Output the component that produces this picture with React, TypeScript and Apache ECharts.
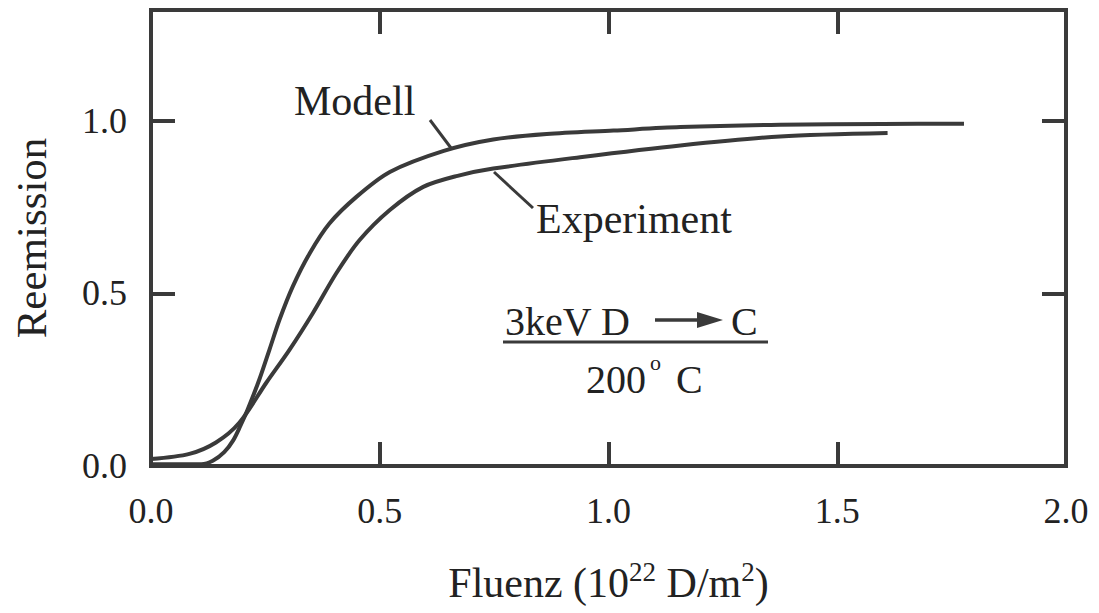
import React, { useEffect, useRef } from 'react';
import * as echarts from 'echarts';

// Axis ticks
const xTickValues = [0, 0.5, 1.0, 1.5, 2.0];
const yTickValues = [0, 0.5, 1.0];

// Modell curve (fluence in 1e22 D/m^2, reemission)
const modellX = [0, 0.11, 0.135, 0.16, 0.18, 0.195, 0.2115, 0.237, 0.259, 0.281, 0.31, 0.347, 0.39, 0.449, 0.522, 0.64, 0.748, 0.865, 1.011, 1.157, 1.375, 1.6, 1.777];
const modellY = [0.005, 0.005, 0.015, 0.04, 0.075, 0.115, 0.164, 0.251, 0.337, 0.424, 0.52, 0.616, 0.702, 0.779, 0.851, 0.912, 0.945, 0.961, 0.971, 0.981, 0.988, 0.99, 0.991];

// Experiment curve
const experimentX = [0, 0.084, 0.142, 0.193, 0.252, 0.303, 0.354, 0.405, 0.456, 0.522, 0.595, 0.67, 0.748, 0.938, 1.157, 1.375, 1.61];
const experimentY = [0.02, 0.035, 0.068, 0.125, 0.241, 0.337, 0.443, 0.558, 0.654, 0.741, 0.808, 0.84, 0.861, 0.894, 0.928, 0.954, 0.964];

const FONT = '"Liberation Serif", "Times New Roman", Times, serif';
const INK = '#3a3a3a';
const TEXT = '#222222';

export default function App() {
  const ref = useRef<HTMLDivElement>(null);

  useEffect(() => {
    if (!ref.current) return;
    const chart = echarts.init(ref.current, null, { renderer: 'svg' });
    const fmt = (v: number) => (xTickValues.some((t) => Math.abs(t - v) < 1e-9) ? v.toFixed(1) : '');
    const fmtY = (v: number) => (yTickValues.some((t) => Math.abs(t - v) < 1e-9) ? v.toFixed(1) : '');
    const tick = { show: true, inside: true, length: 24, lineStyle: { color: INK, width: 4 } };
    const hiddenLine = { show: false, onZero: false };
    const txt = (text: string, left: number, top: number, size: number) => ({
      type: 'text',
      left,
      top,
      style: { text, fontSize: size, fontFamily: FONT, fill: TEXT },
    });

    chart.setOption({
      animation: false,
      backgroundColor: '#ffffff',
      grid: {
        left: 151,
        right: 33,
        top: 10,
        bottom: 146,
        show: true,
        borderColor: INK,
        borderWidth: 4,
        backgroundColor: 'transparent',
      },
      xAxis: [
        {
          type: 'value',
          position: 'bottom',
          min: 0,
          max: 2,
          interval: 0.5,
          axisLine: hiddenLine,
          axisTick: tick,
          splitLine: { show: false },
          axisLabel: { fontSize: 36, fontFamily: FONT, color: TEXT, margin: 27, formatter: fmt },
          name: 'Fluenz (10{sup|22} D/m{sup|2})',
          nameLocation: 'middle',
          nameGap: 92,
          nameTextStyle: {
            fontSize: 42,
            fontFamily: FONT,
            color: TEXT,
            lineHeight: 50,
            rich: {
              sup: { fontSize: 27, fontFamily: FONT, color: TEXT, lineHeight: 27, verticalAlign: 'top' },
            },
          },
        },
        {
          type: 'value',
          position: 'top',
          min: 0,
          max: 2,
          interval: 0.5,
          axisLine: hiddenLine,
          axisTick: tick,
          splitLine: { show: false },
          axisLabel: { show: false },
        },
      ],
      yAxis: [
        {
          type: 'value',
          position: 'left',
          min: 0,
          max: 1.32,
          interval: 0.5,
          axisLine: hiddenLine,
          axisTick: tick,
          splitLine: { show: false },
          axisLabel: { fontSize: 36, fontFamily: FONT, color: TEXT, margin: 24, formatter: fmtY },
          name: 'Reemission',
          nameLocation: 'middle',
          nameGap: 98,
          nameRotate: 90,
          nameTextStyle: { fontSize: 43, fontFamily: FONT, color: TEXT },
        },
        {
          type: 'value',
          position: 'right',
          min: 0,
          max: 1.32,
          interval: 0.5,
          axisLine: hiddenLine,
          axisTick: tick,
          splitLine: { show: false },
          axisLabel: { show: false },
        },
      ],
      series: [
        {
          name: 'Modell',
          type: 'line',
          data: modellX.map((x, i) => [x, modellY[i]]),
          showSymbol: false,
          smooth: 0.3,
          lineStyle: { color: INK, width: 4 },
        },
        {
          name: 'Experiment',
          type: 'line',
          data: experimentX.map((x, i) => [x, experimentY[i]]),
          showSymbol: false,
          smooth: 0.3,
          lineStyle: { color: INK, width: 4 },
        },
      ],
      graphic: [
        // series labels and leader lines
        txt('Modell', 294, 80, 42),
        { type: 'line', shape: { x1: 430, y1: 120, x2: 451, y2: 148 }, style: { stroke: INK, lineWidth: 3 } },
        txt('Experiment', 536, 198, 42),
        { type: 'line', shape: { x1: 494, y1: 172, x2: 533, y2: 208 }, style: { stroke: INK, lineWidth: 3 } },
        // reaction annotation
        txt('3keV D', 505, 301, 40),
        { type: 'line', shape: { x1: 655, y1: 320, x2: 702, y2: 320 }, style: { stroke: INK, lineWidth: 3.5 } },
        { type: 'polygon', shape: { points: [[697, 312], [723, 320], [697, 328]] }, style: { fill: INK } },
        txt('C', 731, 301, 40),
        { type: 'line', shape: { x1: 503, y1: 342, x2: 768, y2: 342 }, style: { stroke: INK, lineWidth: 3 } },
        txt('200', 586, 359, 40),
        txt('o', 650, 351, 22),
        txt('C', 676, 359, 40),
      ],
    });

    return () => chart.dispose();
  }, []);

  return (
    <div
      ref={ref}
      style={{ position: 'fixed', left: 0, top: 0, width: 1099, height: 613, background: '#ffffff' }}
    />
  );
}
